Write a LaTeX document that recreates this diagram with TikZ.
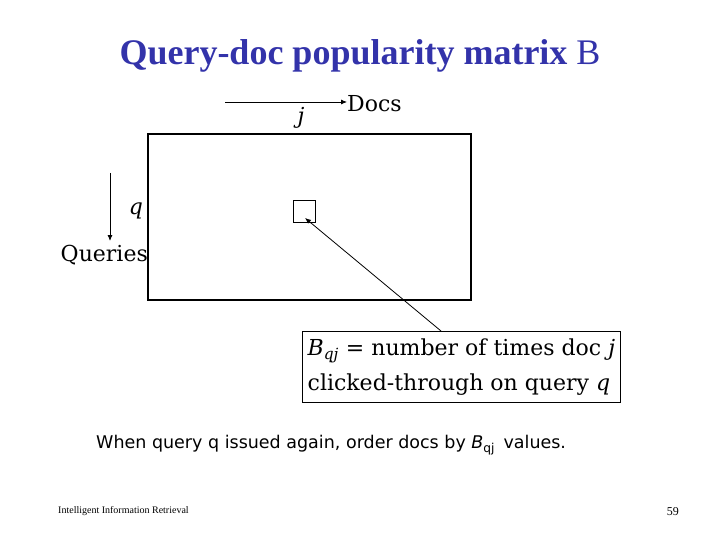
\documentclass[tikz,border=0pt]{standalone}
\usepackage{fontspec}
\setmainfont{DejaVu Serif}
\newfontfamily\titlefont{Liberation Serif}
\newfontfamily\bodyserif{DejaVu Serif}
\newfontfamily\comicfont{DejaVu Sans}
\usetikzlibrary{arrows.meta}
\definecolor{titleblue}{RGB}{51,51,170}
\begin{document}
\begin{tikzpicture}[x=1pt,y=-1pt,
  lbl/.style={inner sep=0pt,font=\bodyserif\fontsize{22}{26}\selectfont},
  arr/.style={-{Latex[length=6pt,width=5pt]},line width=0.8pt},
  frame/.style={draw,line width=1.5pt}]
\useasboundingbox (0,0) rectangle (720,540);
\node[inner sep=0pt,text=titleblue,font=\titlefont\fontsize{36}{40}\selectfont] (title) at (360,56) {\textbf{Query-doc popularity matrix} B};
% docs axis
\coordinate (da) at (225,102);
\node[lbl,anchor=west] (docs) at (347,104) {Docs};
\draw[arr] (da) -- (docs.west |- da);
\node[lbl,anchor=center] (j) at (301,118) {\itshape j};
% matrix
\node[frame,minimum width=323pt,minimum height=166pt,inner sep=0pt] (mat) at (309.5,217) {};
\node[draw,line width=0.8pt,minimum size=22pt,inner sep=0pt] (cell) at (304.5,211) {};
% queries axis
\coordinate (qa) at (110,173);
\node[lbl,anchor=east] (queries) at (148,255) {Queries};
\draw[arr] (qa) -- (110,241);
\node[lbl] (q) at (136,211) {\itshape q};
% explanation box
\node[draw,line width=0.8pt,inner sep=0pt,minimum width=318pt,minimum height=71pt,align=left,anchor=north west,font=\bodyserif\fontsize{22}{35}\selectfont] (expl) at (302,331)
  {\textit{B}\textsubscript{\textit{qj}} = number of times doc \textit{j}\\clicked-through on query \textit{q}};
\coordinate (lstart) at (441,331);
\draw[arr] (lstart) -- (305,218);
% bottom note
\node[inner sep=0pt,anchor=west,font=\comicfont\fontsize{17.5}{20}\selectfont] (note) at (96,445)
  {When query q issued again, order docs by \textit{B}\textsubscript{qj}\, values.};
% footer
\node[inner sep=0pt,anchor=west,font=\titlefont\fontsize{10}{11}\selectfont] (foot) at (58,511) {Intelligent Information Retrieval};
\node[inner sep=0pt,anchor=east,font=\titlefont\fontsize{12}{13}\selectfont] (page) at (679,512) {59};
\end{tikzpicture}
\end{document}
